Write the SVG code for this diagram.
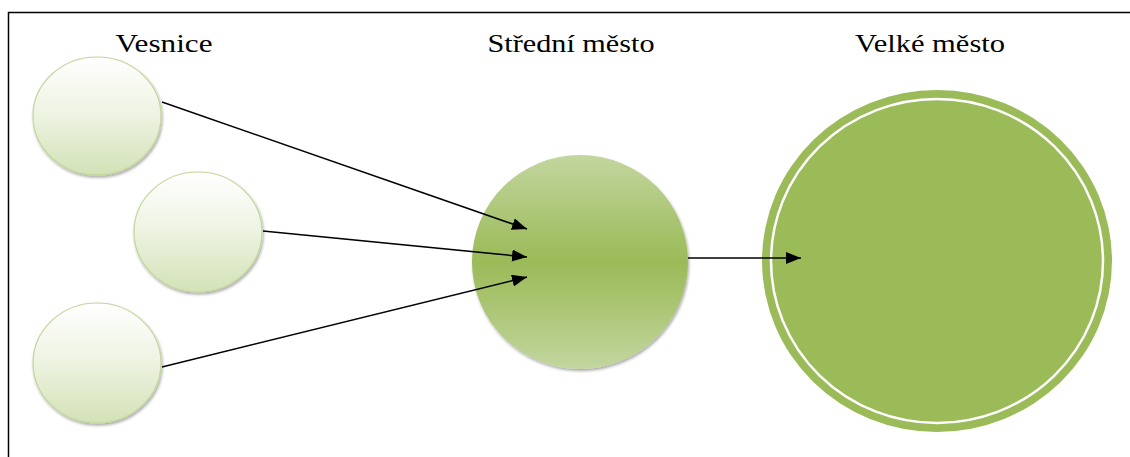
<svg xmlns="http://www.w3.org/2000/svg" width="1130" height="457" viewBox="0 0 1130 457">
<defs>
<linearGradient id="gSmall" x1="0" y1="0" x2="0" y2="1">
<stop offset="0" stop-color="#ffffff"/>
<stop offset="0.45" stop-color="#eff4e4"/>
<stop offset="1" stop-color="#d3e2b6"/>
</linearGradient>
<linearGradient id="gMid" x1="0" y1="0" x2="0" y2="1">
<stop offset="0" stop-color="#c3d69f"/>
<stop offset="0.35" stop-color="#a6c26b"/>
<stop offset="0.5" stop-color="#9bbb59"/>
<stop offset="0.65" stop-color="#a6c26b"/>
<stop offset="1" stop-color="#c3d69f"/>
</linearGradient>
<filter id="sh" x="-10%" y="-10%" width="125%" height="125%">
<feGaussianBlur in="SourceAlpha" stdDeviation="1.5"/>
<feOffset dx="1" dy="2" result="b"/>
<feComponentTransfer><feFuncA type="linear" slope="0.35"/></feComponentTransfer>
<feMerge><feMergeNode/><feMergeNode in="SourceGraphic"/></feMerge>
</filter>
<marker id="arr" markerUnits="userSpaceOnUse" markerWidth="16" markerHeight="13" refX="15" refY="6" orient="auto">
<path d="M0,0 L15,6 L0,12 z" fill="#000"/>
</marker>
<style>
.lbl{font-family:"Liberation Serif","Times New Roman",serif;font-size:26px;fill:#000;text-anchor:middle}
.small{fill:url(#gSmall);stroke:#c3d69b;stroke-width:1.2}
.con{stroke:#000;stroke-width:1.5;fill:none;marker-end:url(#arr)}
</style>
</defs>
<rect width="1130" height="457" fill="#fff"/>
<rect x="8.5" y="12.5" width="1200" height="500" fill="none" stroke="#000" stroke-width="1.5"/>
<g id="labels">
<text class="lbl" x="164" y="52" textLength="97" lengthAdjust="spacingAndGlyphs">Vesnice</text>
<text class="lbl" x="571" y="52" textLength="167" lengthAdjust="spacingAndGlyphs">Střední město</text>
<text class="lbl" x="930" y="52" textLength="150" lengthAdjust="spacingAndGlyphs">Velké město</text>
</g>
<g id="vesnice1"><ellipse class="small" filter="url(#sh)" cx="97" cy="116" rx="64" ry="59"/></g>
<g id="vesnice2"><ellipse class="small" filter="url(#sh)" cx="198" cy="232" rx="64" ry="60"/></g>
<g id="vesnice3"><ellipse class="small" filter="url(#sh)" cx="97" cy="363" rx="64" ry="60"/></g>
<g id="stredni"><ellipse filter="url(#sh)" cx="580" cy="262" rx="108" ry="107" fill="url(#gMid)"/></g>
<g id="velke">
<ellipse cx="937" cy="261" rx="175" ry="171" fill="#9bbb59"/>
<ellipse cx="937" cy="261" rx="166" ry="162" fill="none" stroke="#fff" stroke-width="2.5"/>
</g>
<g id="connectors">
<line class="con" x1="162" y1="102" x2="527" y2="229"/>
<line class="con" x1="263" y1="231" x2="527" y2="257"/>
<line class="con" x1="162" y1="367" x2="527" y2="277"/>
<line class="con" x1="688" y1="258" x2="801" y2="258"/>
</g>
</svg>
